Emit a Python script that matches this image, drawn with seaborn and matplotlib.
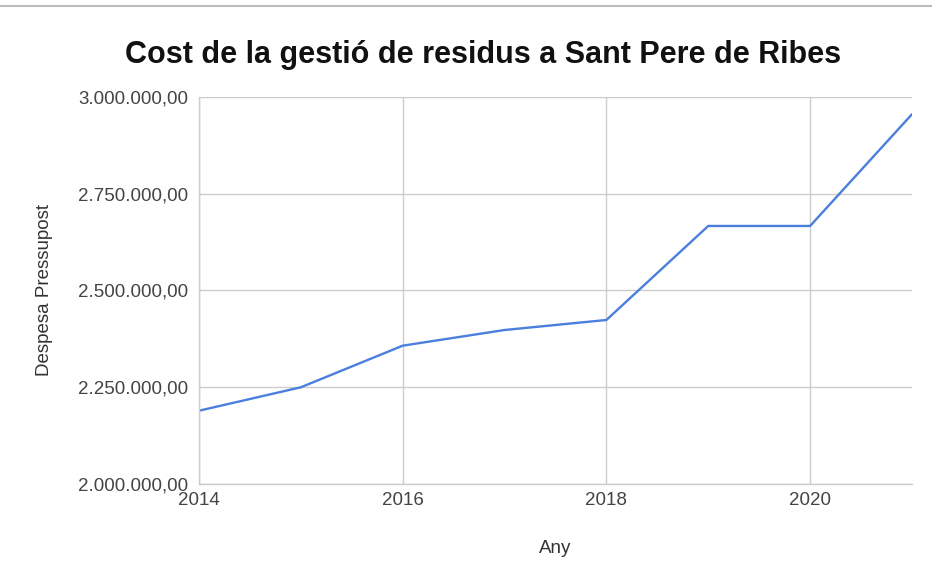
import numpy as np
import pandas as pd
import seaborn as sns
import matplotlib.pyplot as plt
from matplotlib.ticker import FuncFormatter
from matplotlib.lines import Line2D

years = [2014, 2015, 2016, 2017, 2018, 2019, 2020, 2021]
despesa = [2189400, 2249900, 2357400, 2397900, 2423800, 2666700, 2666700, 2955300]

y_ticks = [2000000, 2250000, 2500000, 2750000, 3000000]
x_ticks = [2014, 2016, 2018, 2020]

df = pd.DataFrame({'Any': years, 'Despesa Pressupost': despesa})

sns.set_style('white')
plt.rcParams['font.family'] = ['Liberation Sans', 'DejaVu Sans']

fig = plt.figure(figsize=(9.32, 5.84), dpi=100)
ax = fig.add_axes([0.2135, 0.1712, 0.765, 0.6628])

sns.lineplot(data=df, x='Any', y='Despesa Pressupost', ax=ax, color='#4a7fdd', linewidth=1.7)

ax.set_xlim(2014, 2021)
ax.set_ylim(2000000, 3000000)
ax.set_xticks(x_ticks)
ax.set_yticks(y_ticks)


def euro_fmt(v, pos):
    s = f"{v:,.2f}"
    return s.replace(',', 'X').replace('.', ',').replace('X', '.')


ax.yaxis.set_major_formatter(FuncFormatter(euro_fmt))
ax.grid(True, color='#cccccc', linewidth=1)
ax.tick_params(axis='both', length=0, labelsize=13.5, labelcolor='#444444')
ax.tick_params(axis='y', pad=8)
ax.tick_params(axis='x', pad=6)
for side in ['top', 'right']:
    ax.spines[side].set_visible(False)
for side in ['left', 'bottom']:
    ax.spines[side].set_color('#cccccc')
    ax.spines[side].set_linewidth(1)

ax.set_xlabel('Any', fontsize=13.5, color='#333333', labelpad=22)
ax.set_ylabel('Despesa Pressupost', fontsize=13.5, color='#333333', labelpad=18)

fig.text(0.518, 0.906, 'Cost de la gestió de residus a Sant Pere de Ribes',
         ha='center', va='center', fontsize=22, fontweight='bold', color='#111111')

# grey header line at the top of the screenshot
fig.add_artist(Line2D([0, 1], [0.99, 0.99], color='#bbbbbb', linewidth=1.5,
                      transform=fig.transFigure))

fig.savefig('out.png', dpi=100)
